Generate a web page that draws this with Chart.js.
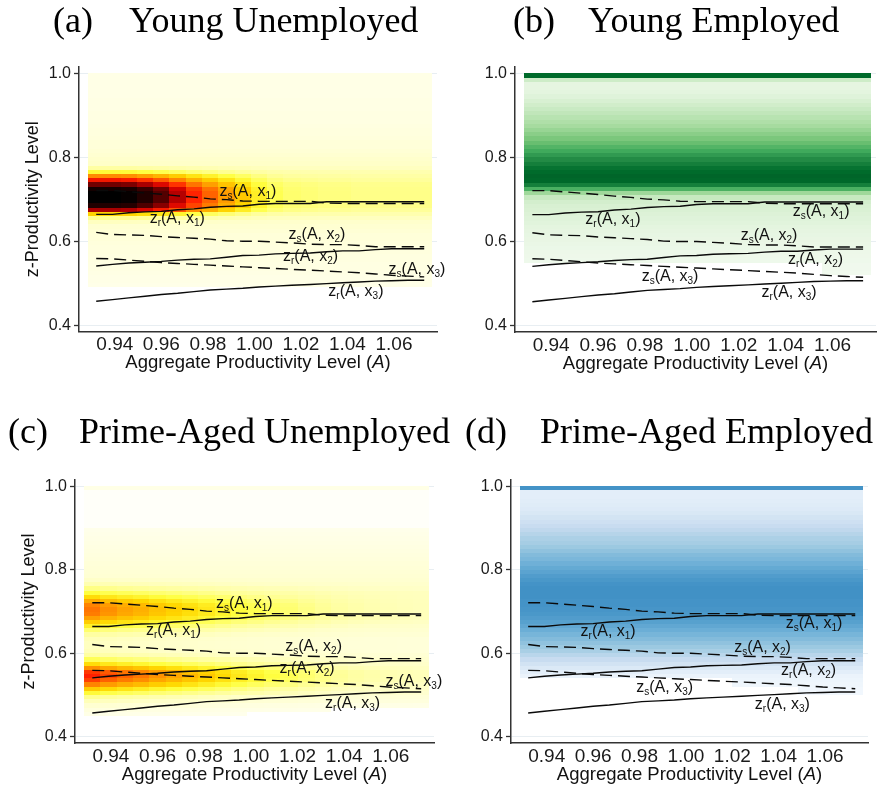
<!DOCTYPE html>
<html>
<head>
<meta charset="utf-8">
<script src="https://cdn.jsdelivr.net/npm/chart.js@4.4.1/dist/chart.umd.min.js"></script>
<style>
  html, body { margin: 0; padding: 0; background: #fff; }
  #wrap { position: relative; width: 881px; height: 799px; overflow: hidden; }
  #wrap canvas { position: absolute; left: 0; top: 0; }
</style>
</head>
<body>
<div id="wrap">
  <canvas id="panelA" width="881" height="799"></canvas>
  <canvas id="panelB" width="881" height="799"></canvas>
  <canvas id="panelC" width="881" height="799"></canvas>
  <canvas id="panelD" width="881" height="799"></canvas>
</div>
<script>
// aggregate productivity grid (columns of the heat maps, points of the cutoff lines)
const aGrid = [0.932, 0.939, 0.946, 0.953, 0.960, 0.967, 0.974, 0.981, 0.988, 0.995, 1.002,
               1.009, 1.016, 1.024, 1.031, 1.038, 1.045, 1.052, 1.059, 1.066, 1.073];
// z rows of the heat maps, top to bottom
const zRows = [0.995, 0.985, 0.975, 0.965, 0.955, 0.945, 0.935, 0.925, 0.915, 0.905, 0.895,
               0.885, 0.875, 0.865, 0.855, 0.845, 0.835, 0.825, 0.815, 0.805, 0.795, 0.785,
               0.775, 0.765, 0.755, 0.745, 0.735, 0.725, 0.715, 0.705, 0.695, 0.685, 0.675,
               0.665, 0.655, 0.645, 0.635, 0.625, 0.615, 0.605, 0.595, 0.585, 0.575, 0.565,
               0.555, 0.545, 0.535, 0.525, 0.515, 0.505, 0.495, 0.485, 0.475, 0.465, 0.455];
const xTicks = [0.94, 0.96, 0.98, 1.00, 1.02, 1.04, 1.06];
const yTicks = [0.4, 0.6, 0.8, 1.0];

// cutoff lines
const zsX1 = [0.721, 0.721, 0.718, 0.715, 0.712, 0.708, 0.705, 0.701, 0.699, 0.696, 0.695, 0.695, 0.695, 0.695, 0.691, 0.690, 0.690, 0.690, 0.690, 0.690, 0.690];
const zrX1 = [0.664, 0.664, 0.668, 0.670, 0.671, 0.675, 0.677, 0.681, 0.683, 0.684, 0.688, 0.690, 0.690, 0.690, 0.694, 0.694, 0.694, 0.694, 0.694, 0.694, 0.694];
const zsX2 = [0.621, 0.616, 0.615, 0.614, 0.611, 0.609, 0.607, 0.605, 0.601, 0.600, 0.600, 0.598, 0.596, 0.593, 0.592, 0.592, 0.590, 0.587, 0.587, 0.587, 0.587];
const zrX2 = [0.541, 0.545, 0.548, 0.550, 0.552, 0.555, 0.557, 0.558, 0.562, 0.566, 0.567, 0.570, 0.571, 0.572, 0.575, 0.577, 0.577, 0.580, 0.582, 0.582, 0.582];
const zsX3 = [0.559, 0.558, 0.555, 0.552, 0.549, 0.547, 0.545, 0.543, 0.541, 0.539, 0.537, 0.535, 0.533, 0.531, 0.529, 0.527, 0.525, 0.522, 0.519, 0.517, 0.515];
const zrX3 = [0.457, 0.461, 0.465, 0.469, 0.473, 0.476, 0.480, 0.484, 0.486, 0.488, 0.491, 0.493, 0.495, 0.497, 0.499, 0.501, 0.503, 0.505, 0.506, 0.507, 0.507];

// line labels
const labelSub = ['s', 'r', 's', 'r', 's', 'r'];
const labelIdx = ['1', '1', '2', '2', '3', '3'];
const labelAUnemp = [0.985, 0.955, 1.0147, 1.0123, 1.0577, 1.0318];
const labelZUnemp = [0.720, 0.655, 0.617, 0.565, 0.533, 0.481];
const labelAEmp = [1.043, 0.9546, 1.0208, 1.041, 0.9786, 1.0297];
const labelZEmp = [0.673, 0.654, 0.6156, 0.559, 0.5186, 0.479];

// heat map densities (0..1 on the colour scale)
const baseA = [0.07, 0.07, 0.07, 0.07, 0.07, 0.07, 0.075, 0.075, 0.075, 0.08, 0.08, 0.08, 0.085,
               0.09, 0.09, 0.095, 0.1, 0.1, 0.11, 0.12, 0.13, 0.14,
               0.15, 0.17, 0.18, 0.19, 0.2, 0.2, 0.2, 0.2, 0.2, 0.2,
               0.19, 0.17, 0.15, 0.13, 0.12, 0.11, 0.1, 0.1,
               0.095, 0.09, 0.09, 0.085, 0.085, 0.08, 0.08, 0.075, 0.07, 0.07, 0.065,
               0, 0, 0, 0];
const peakA = [0, 0, 0, 0, 0, 0, 0, 0, 0, 0, 0, 0, 0, 0, 0, 0, 0, 0, 0, 0, 0, 0,
               0.04, 0.12, 0.3, 0.45, 0.6, 0.75, 0.8, 0.8, 0.8, 0.72, 0.55, 0.2, 0.06, 0.02,
               0, 0, 0, 0, 0, 0, 0, 0, 0, 0, 0, 0, 0, 0, 0, 0, 0, 0, 0];
const fadeA = [1, 1, 0.98, 0.9, 0.8, 0.66, 0.52, 0.42, 0.32, 0.23, 0.14, 0.08, 0.05, 0.04, 0.03, 0.03, 0.02, 0.02, 0.02, 0.02, 0.02];
const floorA = [0.495, 0.495, 0.495, 0.495, 0.495, 0.495, 0.495, 0.495, 0.495, 0.495, 0.495,
                0.495, 0.495, 0.495, 0.495, 0.495, 0.495, 0.495, 0.495, 0.495, 0.495];

const baseB = [0.88, 0.22, 0.12, 0.12, 0.13, 0.15, 0.18, 0.21, 0.24, 0.27,
               0.3, 0.33, 0.36, 0.4, 0.44, 0.48, 0.53, 0.58, 0.63, 0.69,
               0.75, 0.8, 0.85, 0.88, 0.9, 0.89, 0.8, 0.6, 0.38, 0.25,
               0.2, 0.18, 0.17, 0.16, 0.15, 0.14, 0.13, 0.12, 0.11, 0.1,
               0.09, 0.08, 0.07, 0.065, 0.06, 0.05, 0.05, 0.04, 0, 0,
               0, 0, 0, 0, 0];
const floorB = [0.555, 0.555, 0.555, 0.555, 0.555, 0.555, 0.555, 0.555, 0.555, 0.555, 0.555,
                0.555, 0.555, 0.555, 0.555, 0.555, 0.555, 0.555, 0.525, 0.525, 0.525];

const baseC = [0.07, 0.02, 0.02, 0.02, 0.02, 0.02, 0.02, 0.02, 0.02, 0.02,
               0.06, 0.065, 0.07, 0.075, 0.08, 0.085, 0.09, 0.095, 0.1, 0.105, 0.11, 0.115,
               0.12, 0.13, 0.14, 0.15, 0.15, 0.15, 0.15, 0.15, 0.15, 0.15,
               0.14, 0.13, 0.12, 0.11, 0.1, 0.1, 0.1, 0.1,
               0.11, 0.12, 0.13, 0.14, 0.15, 0.15, 0.15,
               0.14, 0.13, 0.12, 0.1, 0.09, 0.07, 0.06, 0.05];
const peakC = [0, 0, 0, 0, 0, 0, 0, 0, 0, 0, 0, 0, 0, 0, 0, 0, 0, 0, 0, 0, 0, 0,
               0.02, 0.04, 0.08, 0.13, 0.2, 0.28, 0.34, 0.36, 0.35, 0.3, 0.24, 0.18, 0.12, 0.08, 0.06, 0.05, 0.05, 0.06,
               0.08, 0.14, 0.22, 0.33, 0.44, 0.47, 0.43, 0.35, 0.25, 0.17, 0.11, 0.07, 0.05, 0.03, 0.02];
const fadeC = [1, 0.9, 0.82, 0.76, 0.68, 0.62, 0.56, 0.5, 0.44, 0.38, 0.33, 0.28, 0.24, 0.19, 0.15, 0.11, 0.08, 0.06, 0.04, 0.03, 0.02];
const floorC = [0.455, 0.455, 0.455, 0.455, 0.455, 0.455, 0.455, 0.455, 0.455, 0.455,
                0.465, 0.465, 0.465, 0.465, 0.465, 0.475, 0.475, 0.475, 0.475, 0.475, 0.475];

const baseD = [0.62, 0.1, 0.1, 0.11, 0.12, 0.13, 0.15, 0.18, 0.21, 0.24,
               0.27, 0.3, 0.33, 0.35, 0.38, 0.41, 0.44, 0.46, 0.49, 0.52,
               0.55, 0.58, 0.6, 0.62, 0.63, 0.63, 0.63, 0.62, 0.62, 0.61,
               0.6, 0.58, 0.56, 0.53, 0.5, 0.47, 0.44, 0.41, 0.38, 0.34,
               0.29, 0.24, 0.19, 0.14, 0.1, 0.06, 0.05, 0.04, 0.03, 0.03,
               0, 0, 0, 0, 0];
const floorD = [0.545, 0.545, 0.545, 0.545, 0.545, 0.545, 0.545, 0.545, 0.545, 0.545, 0.545,
                0.545, 0.545, 0.525, 0.525, 0.525, 0.525, 0.505, 0.505, 0.505, 0.505];

const heatStops = [[0, '#ffffff'], [0.04, '#fffff2'], [0.08, '#ffffe2'], [0.14, '#ffffc8'],
  [0.2, '#ffff9a'], [0.28, '#ffff40'], [0.36, '#ffd800'], [0.45, '#ffa000'], [0.54, '#ff6000'],
  [0.62, '#ff2000'], [0.7, '#d00000'], [0.8, '#700000'], [0.9, '#280000'], [1, '#000000']];
const greenStops = [[0, '#f7fcf5'], [0.125, '#e5f5e0'], [0.25, '#c7e9c0'], [0.375, '#a1d99b'],
  [0.5, '#74c476'], [0.625, '#41ab5d'], [0.75, '#238b45'], [0.875, '#006d2c'], [1, '#00441b']];
const blueStops = [[0, '#f7fbff'], [0.125, '#deebf7'], [0.25, '#c6dbef'], [0.375, '#9ecae1'],
  [0.5, '#6baed6'], [0.625, '#4292c6'], [0.75, '#2171b5'], [0.875, '#08519c'], [1, '#08306b']];

function hexRgb(h) {
  return [parseInt(h.slice(1, 3), 16), parseInt(h.slice(3, 5), 16), parseInt(h.slice(5, 7), 16)];
}
function paletteColor(stops, v) {
  v = Math.max(0, Math.min(1, v));
  for (let k = 1; k < stops.length; k++) {
    if (v <= stops[k][0]) {
      const f = (v - stops[k - 1][0]) / (stops[k][0] - stops[k - 1][0]);
      const a = hexRgb(stops[k - 1][1]), b = hexRgb(stops[k][1]);
      return 'rgb(' + a.map((c, n) => Math.round(c + (b[n] - c) * f)).join(',') + ')';
    }
  }
  return stops[stops.length - 1][1];
}

const panels = [
  { id: 'panelA', letter: '(a)', title: 'Young Unemployed', letterX: 53, titleX: 129, titleY: 32,
    area: [79, 67, 437, 331.5], yTitle: true, stops: heatStops,
    base: baseA, peak: peakA, fade: fadeA, floor: floorA, labA: labelAUnemp, labZ: labelZUnemp },
  { id: 'panelB', letter: '(b)', title: 'Young Employed', letterX: 513, titleX: 588, titleY: 32,
    area: [515, 67, 876, 332], yTitle: false, stops: greenStops,
    base: baseB, peak: null, fade: null, floor: floorB, labA: labelAEmp, labZ: labelZEmp },
  { id: 'panelC', letter: '(c)', title: 'Prime-Aged Unemployed', letterX: 8, titleX: 79, titleY: 443,
    area: [75, 480, 434, 743], yTitle: true, stops: heatStops,
    base: baseC, peak: peakC, fade: fadeC, floor: floorC, labA: labelAUnemp, labZ: labelZUnemp },
  { id: 'panelD', letter: '(d)', title: 'Prime-Aged Employed', letterX: 465, titleX: 540, titleY: 443,
    area: [511, 480, 868, 743], yTitle: false, stops: blueStops,
    base: baseD, peak: null, fade: null, floor: floorD, labA: labelAEmp, labZ: labelZEmp }
];

const heatmapPlugin = {
  id: 'heatmap',
  beforeDatasetsDraw(chart) {
    const p = chart.config.options.plugins.heatmap;
    const { x, y } = chart.scales;
    const ctx = chart.ctx;
    ctx.save();
    for (let j = 0; j < aGrid.length; j++) {
      const lo = j === 0 ? aGrid[0] - (aGrid[1] - aGrid[0]) / 2 : (aGrid[j - 1] + aGrid[j]) / 2;
      const hi = j === aGrid.length - 1 ? aGrid[j] + (aGrid[j] - aGrid[j - 1]) / 2 : (aGrid[j] + aGrid[j + 1]) / 2;
      const x0 = Math.round(x.getPixelForValue(lo)), x1 = Math.round(x.getPixelForValue(hi));
      for (let i = 0; i < zRows.length; i++) {
        if (zRows[i] < p.floor[j] - 1e-6) continue;
        let v = p.base[i];
        if (p.peak) v += p.peak[i] * p.fade[j];
        if (v <= 0) continue;
        const y0 = Math.round(y.getPixelForValue(zRows[i] + 0.005));
        const y1 = Math.round(y.getPixelForValue(zRows[i] - 0.005));
        ctx.fillStyle = paletteColor(p.stops, v);
        ctx.fillRect(x0, y0, x1 - x0, y1 - y0);
      }
    }
    ctx.restore();
  }
};

function drawZLabel(ctx, x, yMid, sub, idx) {
  const big = '16px "Liberation Sans", Arial, sans-serif';
  const small = '10px "Liberation Sans", Arial, sans-serif';
  const base = yMid + 5;
  ctx.textAlign = 'left';
  ctx.textBaseline = 'alphabetic';
  const parts = [['z', big, 0], [sub, small, 3], ['(A, x', big, 0], [idx, small, 3], [')', big, 0]];
  for (const [t, f, dy] of parts) {
    ctx.font = f;
    ctx.fillText(t, x, base + dy);
    x += ctx.measureText(t).width;
  }
}

const textPlugin = {
  id: 'panelText',
  afterDatasetsDraw(chart) {
    const p = chart.config.options.plugins.panelText;
    const { x, y } = chart.scales;
    const ctx = chart.ctx;
    const ca = chart.chartArea;
    ctx.save();
    ctx.fillStyle = '#111';
    // line labels
    for (let k = 0; k < labelSub.length; k++) {
      drawZLabel(ctx, x.getPixelForValue(p.labA[k]), y.getPixelForValue(p.labZ[k]), labelSub[k], labelIdx[k]);
    }
    // panel titles
    ctx.fillStyle = '#000';
    ctx.textBaseline = 'alphabetic';
    ctx.textAlign = 'left';
    ctx.font = '36px "Liberation Serif", "Times New Roman", serif';
    ctx.fillText(p.letter, p.letterX, p.titleY);
    ctx.fillText(p.title, p.titleX, p.titleY);
    // x axis title with italic A
    const f = '18.5px "Liberation Sans", Arial, sans-serif';
    const fi = 'italic 18.5px "Liberation Sans", Arial, sans-serif';
    const segs = [['Aggregate Productivity Level (', f], ['A', fi], [')', f]];
    let w = 0;
    for (const [t, ff] of segs) { ctx.font = ff; w += ctx.measureText(t).width; }
    let tx = (ca.left + ca.right) / 2 - w / 2;
    ctx.fillStyle = '#111';
    ctx.textBaseline = 'middle';
    for (const [t, ff] of segs) { ctx.font = ff; ctx.fillText(t, tx, ca.bottom + 31.5); tx += ctx.measureText(t).width; }
    // y axis title
    if (p.yTitle) {
      ctx.save();
      ctx.translate(ca.left - 46, (ca.top + ca.bottom) / 2);
      ctx.rotate(-Math.PI / 2);
      ctx.textAlign = 'center';
      ctx.textBaseline = 'middle';
      ctx.font = '18px "Liberation Sans", Arial, sans-serif';
      ctx.fillText('z-Productivity Level', 0, 0);
      ctx.restore();
    }
    ctx.restore();
  }
};

const lineSeries = [
  { data: zsX1, dashed: true }, { data: zrX1, dashed: false },
  { data: zsX2, dashed: true }, { data: zrX2, dashed: false },
  { data: zsX3, dashed: true }, { data: zrX3, dashed: false }
];

const Y_AXIS_W = 40, X_AXIS_H = 50;

panels.forEach(p => {
  const [L, T, R, B] = p.area;
  new Chart(document.getElementById(p.id), {
    type: 'line',
    data: {
      datasets: lineSeries.map(s => ({
        data: s.data.map((v, j) => ({ x: aGrid[j], y: v })),
        borderColor: '#0a0a0a',
        borderWidth: 1.4,
        borderDash: s.dashed ? [12, 6] : [],
        pointRadius: 0,
        tension: 0,
        fill: false
      }))
    },
    options: {
      responsive: false,
      animation: false,
      layout: { padding: { left: L - Y_AXIS_W, top: T, right: 881 - R, bottom: 799 - B - X_AXIS_H } },
      plugins: {
        legend: { display: false },
        tooltip: { enabled: false },
        heatmap: { stops: p.stops, base: p.base, peak: p.peak, fade: p.fade, floor: p.floor },
        panelText: p
      },
      scales: {
        x: {
          type: 'linear',
          min: 0.9246,
          max: 1.0785,
          afterBuildTicks: s => { s.ticks = xTicks.map(v => ({ value: v })); },
          afterFit: s => { s.height = X_AXIS_H; },
          grid: { display: false, drawTicks: false },
          border: { display: true, color: '#333', width: 1.5 },
          ticks: {
            autoSkip: false, maxRotation: 0, padding: 2, color: '#1a1a1a',
            font: { family: '"Liberation Sans", Arial, sans-serif', size: 19 },
            callback: v => Number(v).toFixed(2)
          }
        },
        y: {
          type: 'linear',
          min: 0.385,
          max: 1.015,
          afterBuildTicks: s => { s.ticks = yTicks.map(v => ({ value: v })); },
          afterFit: s => { s.width = Y_AXIS_W; },
          grid: { color: '#e8eef2', lineWidth: 1, drawTicks: true, tickLength: 5, tickColor: '#333', tickWidth: 1.3 },
          border: { display: true, color: '#333', width: 1.5 },
          ticks: {
            padding: 3, color: '#1a1a1a',
            font: { family: '"Liberation Sans", Arial, sans-serif', size: 16 },
            callback: v => Number(v).toFixed(1)
          }
        }
      }
    },
    plugins: [heatmapPlugin, textPlugin]
  });
});
</script>
</body>
</html>
